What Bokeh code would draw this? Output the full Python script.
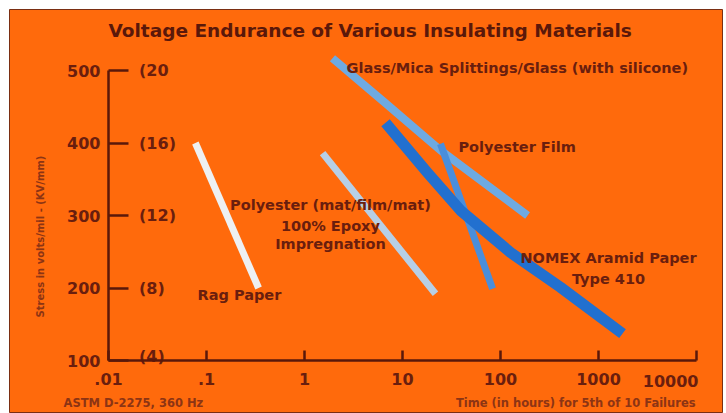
from bokeh.plotting import figure
from bokeh.models import FixedTicker
from bokeh.core.properties import value
from bokeh.embed import file_html
from bokeh.resources import INLINE
import math

# ---- data ----
x_ticks = [0.01, 0.1, 1, 10, 100, 1000, 10000]
x_tick_labels = [".01", ".1", "1", "10", "100", "1000", "10000"]
y_ticks = [100, 200, 300, 400, 500]
kv_labels = ["(4)", "(8)", "(12)", "(16)", "(20"]

rag_x = [0.077, 0.34]
rag_y = [400, 200]
pmat_x = [1.53, 21.7]
pmat_y = [386, 192]
glass_x = [1.93, 6.7, 24.4, 189]
glass_y = [517, 455, 390, 300]
pfilm_x = [24.4, 83]
pfilm_y = [399, 199]
nomex_x = [6.71, 18.0, 39.1, 126.5, 409, 1758]
nomex_y = [428, 359, 307, 249, 201, 137]

label_text = ["Glass/Mica Splittings/Glass (with silicone)", "Polyester Film",
              "Rag Paper"]
label_x = [2.69, 37.2, 0.081]
label_y = [503, 394, 190]
center_text = ["Polyester (mat/film/mat)", "100% Epoxy", "Impregnation",
               "NOMEX Aramid Paper", "Type 410"]
center_x = [1.84, 1.84, 1.84, 1265, 1265]
center_y = [315, 286, 261, 241, 213]

title_text = "Voltage Endurance of Various Insulating Materials"
y_title = "Stress in volts/mil - (KV/mm)"
x_title = "Time (in hours) for 5th of 10 Failures"
note_text = "ASTM D-2275, 360 Hz"

ORANGE = "#ff6a0c"
BROWN = "#5a180a"
TXT = "#6a1e0e"
NOTE = "#8c3414"
FONT = "DejaVu Sans"

# plot area: 98 px per decade, 0.725 px per volt/mil
x_lo, x_hi = 10 ** (-2 - 99 / 98), 10 ** (-2 + 614 / 98)
y_lo, y_hi = 100 - 53 / 0.725, 100 + 351 / 0.725

p = figure(width=726, height=413, x_axis_type="log",
           x_range=(x_lo, x_hi), y_range=(y_lo, y_hi),
           output_backend="svg", toolbar_location=None,
           min_border_left=9, min_border_right=4,
           min_border_top=9, min_border_bottom=0,
           background_fill_color=ORANGE, border_fill_color="white",
           outline_line_color="#7a2e12", outline_line_width=1)

p.grid.visible = False

# x axis drawn at stress = 100
xa = p.xaxis[0]
xa.fixed_location = 100
xa.bounds = (0.01, 10000)
xa.ticker = FixedTicker(ticks=x_ticks)
ov = {t: l for t, l in zip(x_ticks, x_tick_labels)}
ov[10000] = ""
xa.major_label_overrides = ov
xa.major_tick_in = 10
xa.major_tick_out = 0
xa.minor_tick_line_color = None
xa.axis_line_color = BROWN
xa.axis_line_width = 2.5
xa.major_tick_line_color = BROWN
xa.major_tick_line_width = 2.5
xa.major_label_text_font = FONT
xa.major_label_text_font_size = "16px"
xa.major_label_text_font_style = "bold"
xa.major_label_text_color = TXT
xa.major_label_standoff = 12

# y axis drawn at time = .01
ya = p.yaxis[0]
ya.fixed_location = 0.01
ya.bounds = (100, 500)
ya.ticker = FixedTicker(ticks=y_ticks)
ya.major_tick_in = 20
ya.major_tick_out = 0
ya.minor_tick_line_color = None
ya.axis_line_color = BROWN
ya.axis_line_width = 2.5
ya.major_tick_line_color = BROWN
ya.major_tick_line_width = 2.5
ya.major_label_text_font = FONT
ya.major_label_text_font_size = "16px"
ya.major_label_text_font_style = "bold"
ya.major_label_text_color = TXT
ya.major_label_standoff = 8

# curves
p.line(rag_x, rag_y, line_width=7, line_color="#eef0f2")
p.line(pmat_x, pmat_y, line_width=7, line_color="#b7cfe6")
p.line(glass_x, glass_y, line_width=8, line_color="#6eaae2")
p.line(pfilm_x, pfilm_y, line_width=7, line_color="#4a8edb")
p.line(nomex_x, nomex_y, line_width=11, line_color="#2270cf", line_join="round")

common = dict(text_font=value(FONT), text_font_style="bold")

# title
p.text(x=[0.01], y=[555], text=[title_text], text_font_size="18.5px",
       text_color=BROWN, text_baseline="middle", text_align="left", **common)

# secondary kV/mm labels
kv_x = [0.0205] * len(y_ticks)
p.text(x=kv_x[1:], y=y_ticks[1:], text=kv_labels[1:], text_font_size="16px",
       text_color=TXT, text_baseline="middle", text_align="left", **common)
p.text(x=kv_x[:1], y=y_ticks[:1], text=kv_labels[:1], text_font_size="16px",
       text_color=TXT, text_baseline="middle", text_align="left", y_offset=-4, **common)

# curve labels
p.text(x=label_x, y=label_y, text=label_text, text_font_size="14.5px",
       text_color=TXT, text_baseline="middle", text_align="left", **common)
p.text(x=center_x, y=center_y, text=center_text, text_font_size="14.5px",
       text_color=TXT, text_baseline="middle", text_align="center", **common)

# last x tick label, right-aligned at the axis end
p.text(x=[x_ticks[-1]], y=[72.4], text=[x_tick_labels[-1]], text_font_size="16px",
       text_color=TXT, text_baseline="middle", text_align="right", x_offset=2, **common)

# y axis title (rotated) and bottom notes
p.text(x=[0.00202], y=[271], text=[y_title], angle=math.pi / 2, text_font_size="10px",
       text_color=NOTE, text_baseline="middle", text_align="center", **common)
p.text(x=[0.00348], y=[40.7], text=[note_text], text_font_size="11.5px",
       text_color=NOTE, text_baseline="middle", text_align="left", **common)
p.text(x=[9780], y=[40.7], text=[x_title], text_font_size="11.5px",
       text_color=NOTE, text_baseline="middle", text_align="right", **common)

open("out.html", "w").write(file_html(p, INLINE))
